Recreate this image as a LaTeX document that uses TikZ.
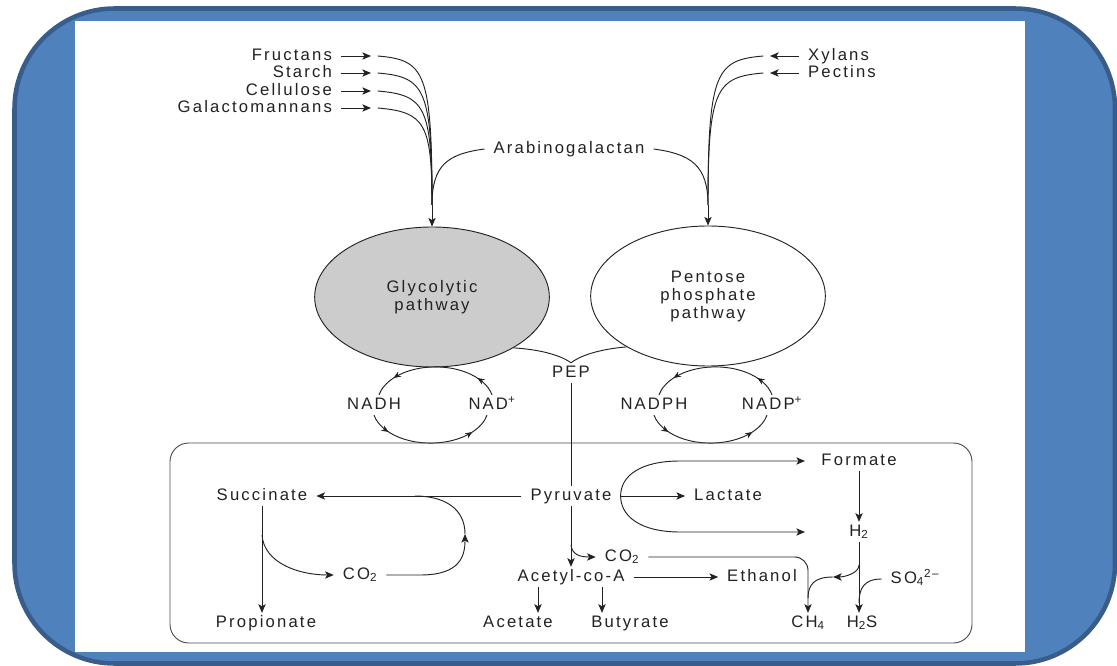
\documentclass[tikz,border=0pt]{standalone}
\usepackage{fontspec}
\setmainfont{Liberation Sans}[LetterSpace=13]
\usetikzlibrary{arrows.meta,shapes.geometric,decorations.markings}

\definecolor{slide}{HTML}{4F81BD}
\definecolor{slideedge}{HTML}{385D8A}
\definecolor{ink}{HTML}{222222}

\begin{document}
\begin{tikzpicture}
	[x=0.75pt,y=-0.75pt,line width=0.7pt,
	>={Stealth[length=6.5pt,width=5.5pt,inset=1.6pt]},
	lbl/.style={text=ink,font=\fontsize{12.5}{14}\selectfont,inner xsep=6.5pt,inner ysep=1.5pt,text height=9pt,text depth=2.6pt},
	pathway/.style={ellipse,draw=ink,line width=0.7pt,minimum width=176pt,minimum height=105pt,inner sep=0pt,align=center,text=ink,font=\fontsize{12.5}{13.5}\selectfont},
	cyc/.style={draw=ink,postaction={decorate},decoration={markings,
			mark=at position 0.17 with {\arrow{Stealth[length=5.5pt,width=4.5pt]}},
			mark=at position 0.83 with {\arrow{Stealth[length=5.5pt,width=4.5pt]}}}},]
	\useasboundingbox (0,0) rectangle (1117,666);
	
	% slide frame
	\draw[fill=slide,draw=slideedge,line width=3.4pt,rounded corners=75pt] (14.5,8.5) rectangle (1115,663.5);
	\fill[white] (75,21) rectangle (1025,652);
	
	\begin{scope}[draw=ink]
	\node[pathway,fill=gray!40] (gly) at (432,297) {Glycolytic\\pathway};
	\node[pathway] (pen) at (708,296) {Pentose\\phosphate\\pathway};
	\coordinate (gin) at (432,205);
	\coordinate (pin) at (708,205);
	
	% polysaccharides
	\foreach \nm/\txt/\y in {fru/Fructans/56,sta/Starch/73,cel/Cellulose/91,gal/Galactomannans/108}{
		\node[lbl,anchor=east] (\nm) at (341,\y) {\txt};
		\coordinate (\nm-in) at (371,\y);
		\draw[->] (\nm) -- (\nm-in);
		\draw ([xshift=5pt]\nm-in) .. controls +(47,4) and +(0,\y-190) .. (gin);
	}
	\foreach \nm/\txt/\y in {xyl/Xylans/56,pec/Pectins/73}{
		\node[lbl,anchor=west] (\nm) at (799,\y) {\txt};
		\coordinate (\nm-in) at (770,\y);
		\draw[->] (\nm) -- (\nm-in);
		\draw ([xshift=-5pt]\nm-in) .. controls +(-47,4) and +(0,\y-190) .. (pin);
	}
	\node[lbl] (arab) at (569,149) {Arabinogalactan};
	\draw (arab.west) .. controls +(-37,5) and +(0,-40) .. (gin);
	\draw (arab.east) .. controls +(37,5) and +(0,-40) .. (pin);
	\draw[->] (gin) -- (gly.north);
	\draw[->] (pin) -- (pen.north);
	
	\node[lbl] (pep) at (571,373) {PEP};
	\draw (gly.-32) .. controls +(35,2) and +(-5,-4) .. (pep.north);
	\draw (pen.-148) .. controls +(-35,3) and +(5,-4) .. (pep.north);
	
	% cofactor cycles
	\node[lbl] (nadh) at (374,405) {NADH};
	\node[lbl] (nad) at (492,405) {NAD\textsuperscript{+}};
	\draw[cyc] (nadh.north -| nad) arc[start angle=13,end angle=167,x radius=43.5pt,y radius=27pt];
	\draw[cyc] (nadh.south) arc[start angle=193,end angle=347,x radius=43.5pt,y radius=27pt];
	\node[lbl] (nadph) at (654,405) {NADPH};
	\node[lbl] (nadp) at (772,405) {NADP\textsuperscript{+}};
	\draw[cyc] (nadph.north -| nadp) arc[start angle=13,end angle=167,x radius=43.5pt,y radius=27pt];
	\draw[cyc] (nadph.south) arc[start angle=193,end angle=347,x radius=43.5pt,y radius=27pt];
	
	% fermentation
	\draw[draw=ink!80,rounded corners=14pt] (170,443) rectangle (972,643);
	\node[lbl] (pyr) at (571,496) {Pyruvate};
	\node[lbl] (succ) at (262,496) {Succinate};
	\node[lbl] (prop) at (266,623) {Propionate};
	\node[lbl] (co2a) at (360,575) {CO\textsubscript{2}};
	\node[lbl] (lac) at (728,496) {Lactate};
	\node[lbl] (form) at (859,461) {Formate};
	\node[lbl] (h2) at (859,532) {H\textsubscript{2}};
	\node[lbl] (co2b) at (622,557) {CO\textsubscript{2}};
	\node[lbl] (acoa) at (571,577) {Acetyl-co-A};
	\node[lbl] (eth) at (762,577) {Ethanol};
	\node[lbl] (acet) at (518,623) {Acetate};
	\node[lbl] (buty) at (630,623) {Butyrate};
	\node[lbl] (ch4) at (808,623) {CH\textsubscript{4}};
	\node[lbl] (h2s) at (862,623) {H\textsubscript{2}S};
	\node[lbl] (so4) at (915,579) {SO\textsubscript{4}\textsuperscript{2--}};
	
	\draw (pep) -- (pyr);
	\draw[->] (pyr) -- (succ);
	\draw[->] (succ) -- (succ |- prop.north);
	\coordinate (sb) at (262,535);
	\draw[->] (sb) .. controls +(2,28) and +(-35,0) .. (co2a.west);
	\coordinate (up) at (465,534);
	\coordinate (sj) at (415,496);
	\draw[->] (co2a.east) -- ++(34,0) .. controls +(40,0) and +(0,22) .. (up);
	\draw (up) .. controls +(0,-25) and +(30,0) .. (sj);
	
	\draw[->] (pyr) -- (lac);
	\coordinate (ftop) at (680,461);
	\coordinate (fbot) at (680,532);
	\coordinate (h2in) at (805,532);
	\draw[->] (pyr.east) .. controls +(0,-20) and +(-40,0) .. (ftop) -- (form.west -| h2in);
	\draw[->] (pyr.east) .. controls +(0,20) and +(-40,0) .. (fbot) -- (h2in);
	\draw[->] (form) -- (h2);
	\draw[->] (h2) -- (h2 |- h2s.north);
	\coordinate (hb) at (859,565);
	\coordinate (mb) at (833,577);
	\coordinate (cj) at (808,598);
	\draw[->] (hb) .. controls +(0,8) and +(12,0) .. (mb);
	\draw (mb) .. controls +(-18,0) and +(0,-14) .. (cj);
	\coordinate (sj2) at (859,603);
	\draw (so4.west) .. controls +(-18,0) and +(0,-14) .. (sj2);
	
	\draw[->] (pyr) -- (acoa);
	\coordinate (pb) at (571,545);
	\draw[->] (pb) .. controls +(1,10) and +(-15,0) .. (co2b.west);
	\draw[->,rounded corners=10pt] (co2b.east) -- (co2b.east -| ch4) -- (ch4.north);
	\draw[->] (acoa) -- (eth);
	\coordinate (ac1) at (538,0);
	\coordinate (ac2) at (602,0);
	\draw[->] (acoa.south -| ac1) -- (acet.north -| ac1);
	\draw[->] (acoa.south -| ac2) -- (buty.north -| ac2);
	\end{scope}
	
\end{tikzpicture}
\end{document}
